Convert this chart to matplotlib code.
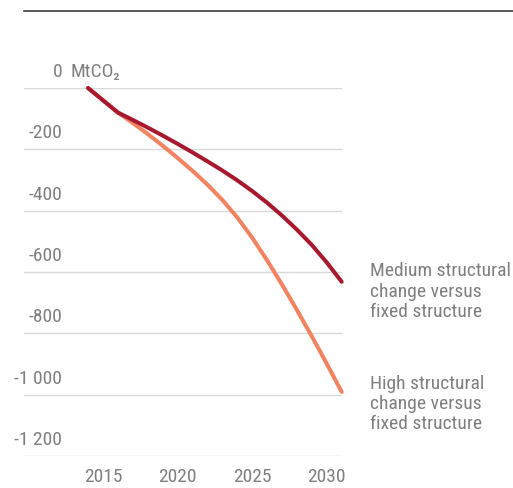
import matplotlib
matplotlib.use("Agg")
import matplotlib.pyplot as plt
import matplotlib.transforms as mtransforms
from matplotlib.lines import Line2D
from matplotlib import font_manager

# pick the narrowest installed sans we can find
installed = {f.name for f in font_manager.fontManager.ttflist}
font_pick = 'DejaVu Sans'
for cand in ['Roboto Condensed', 'Liberation Sans Narrow', 'DejaVu Sans Condensed',
             'Open Sans Condensed', 'Roboto']:
    if cand in installed:
        font_pick = cand
        break
plt.rcParams['font.family'] = [font_pick, 'DejaVu Sans']

# data (MtCO2, relative to fixed structure)
years = [2014, 2016, 2017, 2018, 2019, 2020, 2021, 2022, 2023,
         2024, 2025, 2026, 2027, 2028, 2029, 2030, 2031]
medium = [0, -80, -104, -129, -155, -182, -210, -239, -269,
          -301, -336, -374, -416, -462, -512, -569, -632]
high = [0, -80, -114, -150, -188, -228, -270, -315, -365,
        -422, -488, -562, -641, -724, -810, -899, -991]

ytick_vals = [0, -200, -400, -600, -800, -1000, -1200]
ytick_labels = ["0", "-200", "-400", "-600", "-800", "-1 000", "-1 200"]
xtick_vals = [2015, 2020, 2025, 2030]
series_labels = ["Medium structural\nchange versus\nfixed structure",
                 "High structural\nchange versus\nfixed structure"]

RED = '#A6192E'
ORANGE = '#F28360'
GREY = '#7f7f7f'
FS = 14
W, H = 513, 488

fig = plt.figure(figsize=(W / 100, H / 100), dpi=100)
ax = fig.add_axes([24 / W, (H - 456) / H, (342 - 24) / W, (456 - 88) / H])

ax.set_xlim(2009.71, 2031.02)
ax.set_ylim(-1200, 0)

ax.plot(years, high, color=ORANGE, lw=2.9, solid_capstyle='round',
        solid_joinstyle='round', clip_on=False, zorder=3)
ax.plot(years, medium, color=RED, lw=2.9, solid_capstyle='round',
        solid_joinstyle='round', clip_on=False, zorder=4)

# gridlines
ax.set_yticks(ytick_vals)
ax.set_yticklabels([])
ax.tick_params(axis='y', length=0)
ax.grid(axis='y', color='#d9d9d9', lw=1.0)
ax.set_axisbelow(True)
for s in ax.spines.values():
    s.set_visible(False)

# y labels sit above their gridline
lab_tr = mtransforms.blended_transform_factory(ax.transAxes, ax.transData) + \
    mtransforms.ScaledTranslation(0, 16 / 100, fig.dpi_scale_trans)
xl = (62 - 24) / (342 - 24)
for v, t in zip(ytick_vals, ytick_labels):
    ax.text(xl, v, t, transform=lab_tr, ha='right', va='center',
            fontsize=FS, color=GREY)
ax.text((71 - 24) / (342 - 24), 0, "MtCO₂", transform=lab_tr, ha='left',
        va='center', fontsize=FS, color=GREY)

# x labels
ax.set_xticks(xtick_vals)
ax.set_xticklabels([str(y) for y in xtick_vals], fontsize=FS, color=GREY)
ax.tick_params(axis='x', length=0, pad=9)

# series labels
end_tr = ax.transData + mtransforms.ScaledTranslation(28 / 100, 0, fig.dpi_scale_trans)
ax.text(years[-1], medium[-1] - 32, series_labels[0], transform=end_tr,
        ha='left', va='center', fontsize=FS, color=GREY, linespacing=1.16)
ax.text(years[-1], high[-1] - 40, series_labels[1], transform=end_tr,
        ha='left', va='center', fontsize=FS, color=GREY, linespacing=1.16)

# top rule
fig.add_artist(Line2D([24 / W, 1], [1 - 11 / H, 1 - 11 / H],
                      color='#3c3c3c', lw=1.2))

fig.savefig("out.png", dpi=100)
